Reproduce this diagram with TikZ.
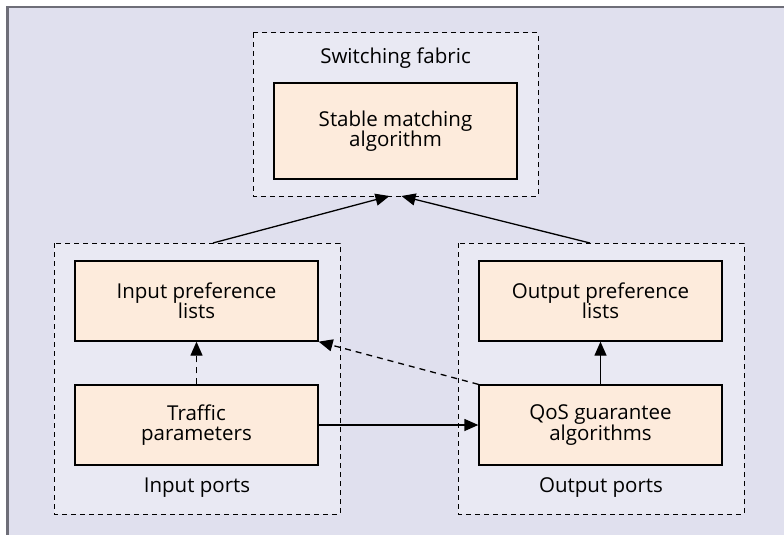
\documentclass[tikz,border=0pt]{standalone}
\usepackage{fontspec}
\setmainfont{Open Sans}
\usetikzlibrary{arrows.meta}
\definecolor{pagebg}{HTML}{E0E0EE}
\definecolor{groupbg}{HTML}{E9E9F3}
\definecolor{boxbg}{HTML}{FDEBDC}
\definecolor{edge}{HTML}{6E6E78}
\tikzset{
  group/.style={draw=black, fill=groupbg, line width=1pt, dash pattern=on 5pt off 4pt},
  block/.style={draw=black, fill=boxbg, line width=1.3pt, align=center, font=\fontsize{20.5}{21.5}\selectfont},
  glabel/.style={font=\fontsize{20.5}{21.5}\selectfont},
  link/.style={draw=black, line width=1.3pt, -{Triangle[length=14pt,width=12pt]}},
  dlink/.style={link, dash pattern=on 6pt off 5pt},
}
\begin{document}
\begin{tikzpicture}[x=1pt,y=-1pt]
\useasboundingbox (0,0) rectangle (784,535);
% page background with frame bars on top and left
\fill[pagebg] (6,6) rectangle (784,535);
\fill[edge] (6,6) rectangle (784,8.5);
\fill[edge] (6,6) rectangle (8.5,535);

% group containers
\path[group] (253,33) rectangle (538,196);
\path[group] (54,243) rectangle (340,514);
\path[group] (458,243) rectangle (744,514);
\coordinate (fabbot) at (395.5,196);
\coordinate (intop) at (213,243);
\coordinate (outtop) at (590,243);

\node[glabel] (fablab) at (395.5,58) {Switching fabric};
\node[glabel] (inlab) at (197,488) {Input ports};
\node[glabel] (outlab) at (601,488) {Output ports};

% processing blocks
\node[block, minimum width=243pt, minimum height=96pt] (sma) at (395.5,131) {Stable matching\\[-1pt]algorithm};
\node[block, minimum width=243pt, minimum height=80pt] (ipl) at (196.5,301) {Input preference\\[-1pt]lists};
\node[block, minimum width=243pt, minimum height=80pt] (tp) at (196.5,425) {Traffic\\[-1pt]parameters};
\node[block, minimum width=243pt, minimum height=80pt] (opl) at (600.5,301) {Output preference\\[-1pt]lists};
\node[block, minimum width=243pt, minimum height=80pt] (qos) at (600.5,425) {QoS guarantee\\[-1pt]algorithms};

% connectors
\draw[link] (intop) -- ([xshift=-6pt]fabbot);
\draw[link] (outtop) -- ([xshift=6pt]fabbot);
\draw[dlink] (tp) -- (ipl);
\draw[dlink] (qos.north west) -- (ipl.south east);
\draw[link] (tp) -- (qos);
\draw[link] (qos) -- (opl);
\end{tikzpicture}
\end{document}
